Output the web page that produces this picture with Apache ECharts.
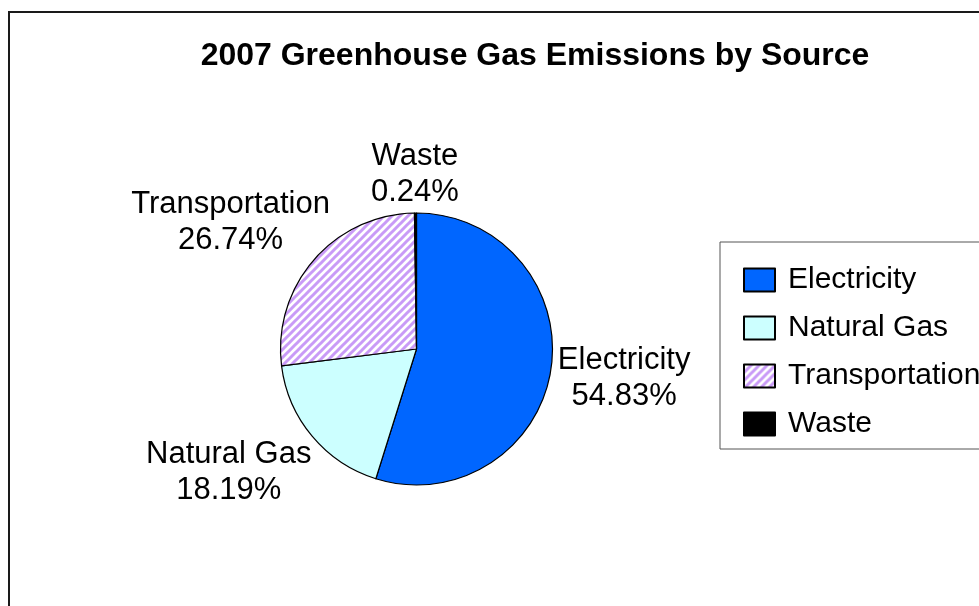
<!DOCTYPE html>
<html>
<head>
<meta charset="utf-8">
<script src="https://cdn.jsdelivr.net/npm/echarts@6/dist/echarts.min.js"></script>
<style>
html,body{margin:0;padding:0;background:#fff;}
#chart{width:979px;height:606px;}
</style>
</head>
<body>
<div id="chart"></div>
<script>
var categories = ['Electricity', 'Natural Gas', 'Transportation', 'Waste'];
var values = [54.83, 18.19, 26.74, 0.24];
var titleText = '2007 Greenhouse Gas Emissions by Source';

var FONT = '"Liberation Sans", Arial, sans-serif';
var CX = 416.5, CY = 349, R = 136;

// hatch pattern for Transportation
function makeHatch() {
  var s = 8;
  var c = document.createElement('canvas');
  c.width = s; c.height = s;
  var g = c.getContext('2d');
  g.fillStyle = '#ffffff';
  g.fillRect(0, 0, s, s);
  g.strokeStyle = '#c99bf7';
  g.lineWidth = 3;
  g.beginPath();
  g.moveTo(-2, 2); g.lineTo(2, -2);
  g.moveTo(0, s); g.lineTo(s, 0);
  g.moveTo(s - 2, s + 2); g.lineTo(s + 2, s - 2);
  g.stroke();
  return c;
}
var hatch = makeHatch();
var fills = ['#0066ff', '#ccffff', { image: hatch, repeat: 'repeat' }, '#000000'];

var total = values.reduce(function (a, b) { return a + b; }, 0);
function midAngle(i) {
  var before = 0;
  for (var k = 0; k < i; k++) before += values[k];
  var frac = (before + values[i] / 2) / total;
  return (90 - frac * 360) * Math.PI / 180;
}
function clamp(v) { return Math.max(-1, Math.min(1, v)); }

var chart = echarts.init(document.getElementById('chart'), null, { renderer: 'canvas' });
chart.setOption({
  backgroundColor: '#ffffff',
  animation: false,
  title: {
    text: titleText,
    left: 530,
    top: 35,
    textAlign: 'center',
    textStyle: { fontFamily: FONT, fontSize: 32, fontWeight: 'bold', color: '#000' }
  },
  graphic: [{
    type: 'rect',
    shape: { x: 9, y: 12, width: 2000, height: 2000 },
    style: { fill: null, stroke: '#1a1a1a', lineWidth: 2 },
    silent: true
  }],
  legend: {
    orient: 'vertical',
    left: 720,
    top: 242,
    padding: [23, 20, 10, 23],
    itemWidth: 31,
    itemHeight: 23,
    itemGap: 18,
    icon: 'rect',
    borderColor: '#555',
    borderWidth: 1,
    data: categories,
    textStyle: { fontFamily: FONT, fontSize: 30, lineHeight: 30, color: '#000', padding: [0, 0, 0, 8] }
  },
  series: [{
    type: 'pie',
    center: [CX, CY],
    radius: R,
    startAngle: 90,
    clockwise: true,
    avoidLabelOverlap: false,
    minAngle: 0,
    data: categories.map(function (name, i) {
      return { name: name, value: values[i], itemStyle: { color: fills[i] } };
    }),
    itemStyle: { borderColor: '#000', borderWidth: 1.2 },
    emphasis: { disabled: true },
    label: {
      show: true,
      position: 'outside',
      formatter: function (p) { return p.name + '\n' + p.value.toFixed(2) + '%'; },
      fontFamily: FONT,
      fontSize: 31,
      lineHeight: 36,
      color: '#000',
      align: 'center'
    },
    labelLine: { show: false },
    labelLayout: function (params) {
      var a = midAngle(params.dataIndex);
      var c = Math.cos(a), s = Math.sin(a);
      var px = CX + R * c, py = CY - R * s;
      var hw = Math.min(params.labelRect.width / 2, 78), hh = params.labelRect.height / 2;
      return {
        x: px + clamp(c * 1.5) * hw + c * 7,
        y: py - clamp(s * 1.5) * hh - s * 3,
        align: 'center',
        verticalAlign: 'middle'
      };
    }
  }]
});
</script>
</body>
</html>
